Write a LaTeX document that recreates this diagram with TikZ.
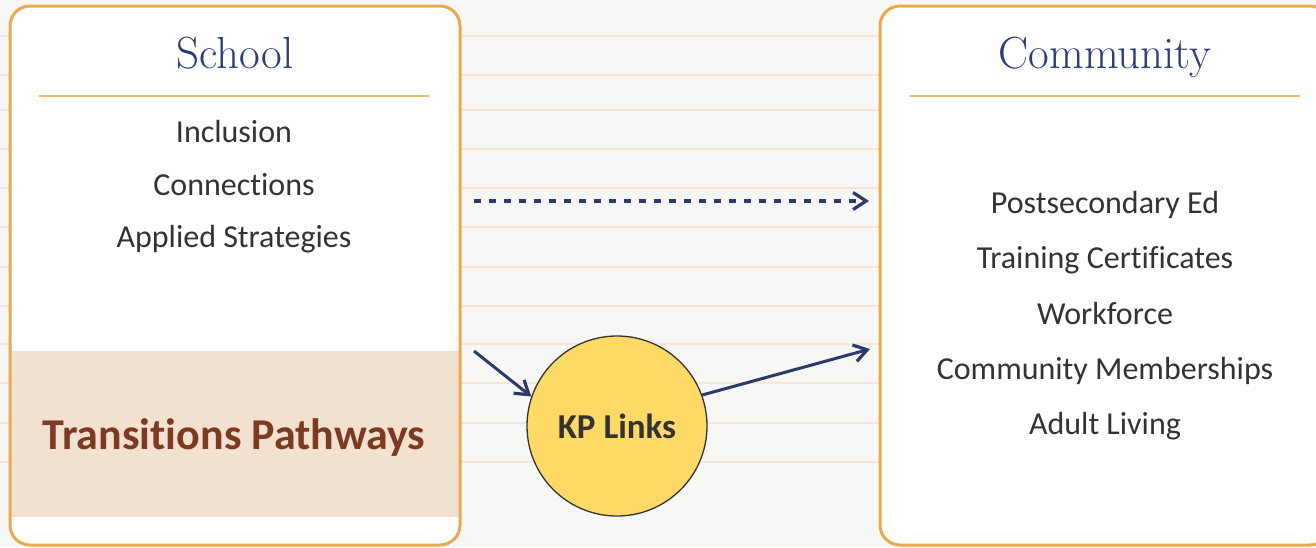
\documentclass[tikz,border=0pt]{standalone}
\usepackage{fontspec}
\setsansfont{Carlito}[Ligatures=NoCommon]
\usetikzlibrary{arrows.meta}
\definecolor{bgcol}{HTML}{F7F7F5}
\definecolor{bglinecol}{HTML}{F5E6D5}
\definecolor{boxborder}{HTML}{E9A94E}
\definecolor{rulecol}{HTML}{EBB96C}
\definecolor{titlecol}{HTML}{2B3C77}
\definecolor{bodycol}{HTML}{333333}
\definecolor{bandcol}{HTML}{F2E1CE}
\definecolor{bandtext}{HTML}{7D3A22}
\definecolor{arrowcol}{HTML}{2B3A6B}
\definecolor{kpfill}{HTML}{FFD966}
\tikzset{
  bgline/.style={draw=bglinecol, line width=1.5pt},
  panel/.style={draw=boxborder, line width=3pt, rounded corners=20pt},
  titlerule/.style={draw=rulecol, line width=2pt},
  titletext/.style={font=\fontsize{45}{50}\selectfont, text=titlecol, anchor=base, inner sep=0pt},
  bodytext/.style={font=\sffamily\fontsize{32}{36}\selectfont, text=bodycol, anchor=base, inner sep=0pt},
  conn/.style={draw=arrowcol, line width=3pt, -{Straight Barb[length=13pt,width=17pt,line width=3.2pt]}},
}
\begin{document}
\begin{tikzpicture}[x=1pt,y=-1pt]
\useasboundingbox (0,0) rectangle (1316,547);
\fill[bgcol] (0,0) rectangle (1316,547);
\foreach \y in {36,75,110,149,188,227,267,306,344,383,423,462}
  \draw[bgline] (0,\y) -- (1316,\y);
% School panel
\fill[white, rounded corners=20pt] (10,6) rectangle (460,545);
\fill[bandcol] (9,351) rectangle (460,517);
\draw[panel] (10,6) rectangle (460,545);
\draw[titlerule] (39,96) -- (429,96);
\node[titletext] (school) at (235,68) {School};
\node[bodytext] (incl) at (234,142) {Inclusion};
\node[bodytext] (conns) at (234,195) {Connections};
\node[bodytext] (appl) at (234,247) {Applied Strategies};
\node[font=\sffamily\bfseries\fontsize{44}{48}\selectfont, text=bandtext, anchor=base, inner sep=0pt] (trans) at (234,449) {Transitions Pathways};
% Community panel
\fill[white, rounded corners=20pt] (880,6) rectangle (1330,545);
\draw[panel] (880,6) rectangle (1330,545);
\draw[titlerule] (910,96) -- (1300,96);
\node[titletext] (comm) at (1105,68) {Community};
\node[bodytext] (post) at (1105,213) {Postsecondary Ed};
\node[bodytext] (train) at (1105,268) {Training Certificates};
\node[bodytext] (work) at (1105,324) {Workforce};
\node[bodytext] (memb) at (1105,379) {Community Memberships};
\node[bodytext] (adult) at (1105,434) {Adult Living};
% KP Links
\node[circle, draw=bodycol, line width=1.3pt, fill=kpfill, minimum size=180pt, inner sep=0pt,
      font=\sffamily\bfseries\fontsize{35}{38}\selectfont, text=bodycol] (kp) at (617,426) {KP Links};
% connectors
\coordinate (dstart) at (474,201);
\coordinate (dend) at (869,201);
\coordinate (a1) at (474,351);
\coordinate (a2) at (870,349);
\draw[conn, line width=3.6pt, dash pattern=on 7pt off 8pt] (dstart) -- (dend);
\draw[conn] (a1) -- (kp.161);
\draw[conn] (kp.20) -- (a2);
\end{tikzpicture}
\end{document}
